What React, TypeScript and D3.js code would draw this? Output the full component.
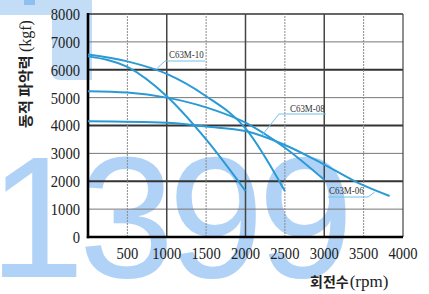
import React from "react";
import * as d3 from "d3";

const W = 429;
const H = 294;

const xTicks = [500, 1000, 1500, 2000, 2500, 3000, 3500, 4000];
const yTicks = [0, 1000, 2000, 3000, 4000, 5000, 6000, 7000, 8000];

const rpm10a = [0, 500, 1000, 1500, 2000];
const kgf10a = [6480, 6100, 5050, 3500, 1650];
const rpm10b = [0, 500, 1000, 1500, 2000, 2500];
const kgf10b = [6550, 6300, 5850, 5050, 3900, 1650];
const rpm08 = [0, 500, 1000, 1500, 2000, 2500, 3000];
const kgf08 = [5230, 5180, 5000, 4650, 4100, 3200, 2050];
const rpm06 = [0, 1000, 1500, 2000, 2500, 3000, 3500, 3830];
const kgf06 = [4150, 4100, 3960, 3800, 3300, 2600, 1850, 1470];

const seriesNames = ["C63M-10", "C63M-08", "C63M-06"];
// label anchor points on curves (rpm, kgf)
const anchorRpm = [880, 2210, 3640];
const anchorKgf = [6060, 3650, 1610];

export default function App() {
  const x = d3.scaleLinear().domain([0, 4000]).range([88, 403]);
  const y = d3.scaleLinear().domain([0, 8000]).range([237, 14]);
  const line = d3
    .line<[number, number]>()
    .x((d) => x(d[0]))
    .y((d) => y(d[1]))
    .curve(d3.curveMonotoneX);
  const zip = (a: number[], b: number[]) => a.map((v, i) => [v, b[i]] as [number, number]);
  const curves = [zip(rpm10a, kgf10a), zip(rpm10b, kgf10b), zip(rpm08, kgf08), zip(rpm06, kgf06)];

  const serif = "'Liberation Serif', 'DejaVu Serif', serif";
  const kr = "'Noto Sans CJK KR', sans-serif";
  const blue = "#2a9ad6";
  const leader = "#72c2ec";

  const labelPos = [
    { ax: x(anchorRpm[0]), ay: y(anchorKgf[0]), kx: 165, ky: 61, tx: 169, ty: 58, ux2: 205 },
    { ax: x(anchorRpm[1]), ay: y(anchorKgf[1]), kx: 279, ky: 114, tx: 290, ty: 112, ux2: 326 },
    { ax: x(anchorRpm[2]), ay: y(anchorKgf[2]), kx: 368, ky: 197, tx: 329, ty: 194, ux2: 328 },
  ];

  return (
    <svg
      width={W}
      height={H}
      style={{ position: "absolute", left: 0, top: 0, background: "#fff" }}
    >
      <rect x={0} y={0} width={W} height={H} fill="#fff" />
      {/* watermark */}
      <path d="M0,0 H92 V80 H60 Q52,80 52,72 V15 H0 Z" fill="#c3ddf7" />
      <rect x={24} y={0} width={11} height={5} fill="#8dc0f0" />
      <text
        x={-11}
        y={277}
        fontFamily="'Liberation Sans', Arial, sans-serif"
        fontSize={172}
        fill="#b0d2f6"
        letterSpacing={-6}
      >
        1399
      </text>

      {/* grid */}
      {yTicks.filter((v) => v > 0).map((v) => {
        const major = v % 2000 === 0;
        return (
          <line
            key={"h" + v}
            x1={x(0)}
            x2={x(4000)}
            y1={y(v)}
            y2={y(v)}
            stroke={major ? "#333" : "#777"}
            strokeWidth={major ? (v === 8000 ? 1.4 : 1.8) : 1}
          />
        );
      })}
      {xTicks.map((v) => {
        const major = v % 1000 === 0;
        return (
          <line
            key={"v" + v}
            x1={x(v)}
            x2={x(v)}
            y1={y(0)}
            y2={y(8000)}
            stroke={major ? "#444" : "#8a8a8a"}
            strokeWidth={major ? (v === 4000 ? 1.2 : 1.5) : 1}
            strokeDasharray={major ? undefined : "2,1"}
          />
        );
      })}
      {/* axes */}
      <line x1={x(0)} x2={x(0)} y1={y(8000) - 1} y2={y(0) + 1.2} stroke="#000" strokeWidth={2.6} />
      <line x1={x(0) - 1.2} x2={x(4000)} y1={y(0)} y2={y(0)} stroke="#000" strokeWidth={2.6} />

      {/* curves */}
      {curves.map((c, i) => (
        <path key={"c" + i} d={line(c) || ""} fill="none" stroke={blue} strokeWidth={2} />
      ))}

      {/* leaders and labels */}
      {labelPos.map((p, i) => (
        <g key={"l" + i}>
          <polyline
            points={`${p.ax},${p.ay} ${p.kx},${p.ky} ${p.ux2},${p.ky}`}
            fill="none"
            stroke={leader}
            strokeWidth={1}
          />
          <text
            x={p.tx}
            y={p.ty}
            fontFamily={serif}
            fontSize={10.5}
            fill="#333"
            transform={`translate(${p.tx},0) scale(0.85,1) translate(${-p.tx},0)`}
          >
            {seriesNames[i]}
          </text>
        </g>
      ))}

      {/* tick labels */}
      {yTicks.map((v) => (
        <text
          key={"yl" + v}
          x={80}
          y={y(v)}
          dy="0.35em"
          textAnchor="end"
          fontFamily={serif}
          fontSize={17}
          fill="#222"
          transform={`translate(80,0) scale(0.86,1) translate(-80,0)`}
        >
          {v}
        </text>
      ))}
      {xTicks.map((v) => (
        <text
          key={"xl" + v}
          x={x(v)}
          y={259}
          textAnchor="middle"
          fontFamily={serif}
          fontSize={17}
          fill="#222"
          transform={`translate(${x(v)},0) scale(0.86,1) translate(${-x(v)},0)`}
        >
          {v}
        </text>
      ))}

      {/* axis titles */}
      <text
        transform="translate(31,74) rotate(-90)"
        textAnchor="middle"
        fontFamily={kr}
        fontWeight="bold"
        fontSize={15}
        fill="#222"
      >
        동적 파악력 <tspan fontFamily={serif} fontWeight="normal" fontSize={16}>(kgf)</tspan>
      </text>
      <text x={310} y={287} fontFamily={kr} fontWeight="bold" fontSize={14} fill="#222">
        회전수<tspan fontFamily={serif} fontWeight="normal" fontSize={17} dx={1}>(rpm)</tspan>
      </text>
    </svg>
  );
}
